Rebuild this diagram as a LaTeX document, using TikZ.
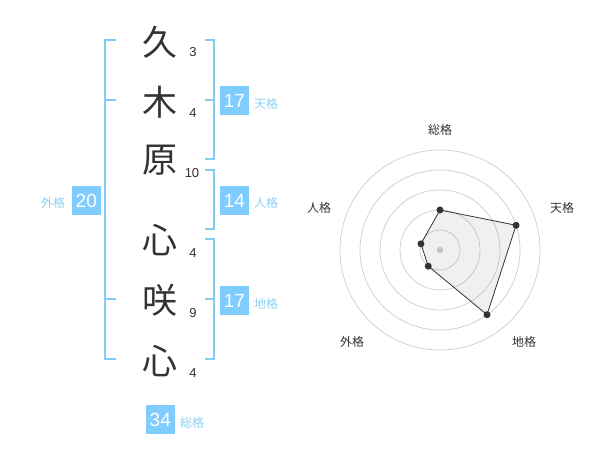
\documentclass[tikz,border=0pt]{standalone}
\usepackage{fontspec}
\setmainfont{Liberation Sans}
\newfontfamily\cjk{Noto Sans CJK JP}
\definecolor{bline}{HTML}{80CCF5}
\definecolor{bbox}{HTML}{80CCFF}
\definecolor{blab}{HTML}{8CD0F5}
\definecolor{dk}{HTML}{333333}
\definecolor{ring}{HTML}{CCCCCC}
\begin{document}
\begin{tikzpicture}[x=1pt,y=-1pt,
  kanji/.style={font=\cjk\fontsize{35}{35}\selectfont, text=dk, inner sep=0pt},
  stroke/.style={font=\fontsize{13}{13}\selectfont, text=dk, inner sep=0pt},
  numbox/.style={fill=bbox, text=white, minimum width=29pt, minimum height=29pt, inner sep=0pt, font=\fontsize{19}{19}\selectfont},
  lab/.style={font=\cjk\fontsize{12}{12}\selectfont, text=blab, inner sep=0pt},
  brk/.style={draw=bline, line width=2pt},
  rlab/.style={font=\cjk\fontsize{12}{12}\selectfont, text=dk, inner sep=0pt},
  ringc/.style={draw=ring, line width=0.7pt},
  dot/.style={circle, fill=dk, inner sep=0pt, minimum size=7pt}]
\useasboundingbox (0,0) rectangle (600,470);
% kanji
\node[kanji] (k1) at (160,42) {久};
\node[kanji] (k2) at (160,102) {木};
\node[kanji] (k3) at (160,160) {原};
\node[kanji] (k4) at (160,240) {心};
\node[kanji] (k5) at (160,300) {咲};
\node[kanji] (k6) at (160,361) {心};
% stroke counts
\node[stroke] (s1) at (193,52) {3};
\node[stroke] (s2) at (193,113) {4};
\node[stroke] (s3) at (192,173) {10};
\node[stroke] (s4) at (193,253) {4};
\node[stroke] (s5) at (193,313) {9};
\node[stroke] (s6) at (193,373) {4};
% brackets
\draw[brk] (116,40) -- (105,40) -- (105,359) -- (116,359);
\draw[brk] (105,100) -- (116,100);
\draw[brk] (105,299) -- (116,299);
\draw[brk] (205,40) -- (214,40) -- (214,159) -- (205,159);
\draw[brk] (205,100) -- (214,100);
\draw[brk] (205,170) -- (214,170) -- (214,229) -- (205,229);
\draw[brk] (205,239) -- (214,239) -- (214,359) -- (205,359);
\draw[brk] (205,299) -- (214,299);
% boxes
\node[numbox] (ten) at (234.5,100.5) {17};
\node[lab] (tenl) at (266,104) {天格};
\node[numbox] (jin) at (234.5,200.5) {14};
\node[lab] (jinl) at (266,203) {人格};
\node[numbox] (chi) at (234.5,300.5) {17};
\node[lab] (chil) at (266,304) {地格};
\node[numbox] (gai) at (86.3,200.5) {20};
\node[lab] (gail) at (53,203) {外格};
\node[numbox] (sou) at (160.3,419.5) {34};
\node[lab] (soul) at (192,423) {総格};
% radar
\begin{scope}[shift={(440,250)}]
\foreach \r in {20,40,60,80,100} \draw[ringc] (0,0) circle (\r);
\fill[ring] (0,0) circle (3.2);
\coordinate (p1) at (-90:40);
\coordinate (p2) at (-18:80);
\coordinate (p3) at (54:80);
\coordinate (p4) at (126:20);
\coordinate (p5) at (198:20);
\fill[black!50, opacity=0.12] (p1) -- (p2) -- (p3) -- (p4) -- (p5) -- cycle;
\draw[dk, line width=0.8pt] (p1) -- (p2) -- (p3) -- (p4) -- (p5) -- cycle;
\foreach \p in {p1,p2,p3,p4,p5} \node[dot] at (\p) {};
\end{scope}
\node[rlab] (r1) at (440,130) {総格};
\node[rlab] (r2) at (562,208) {天格};
\node[rlab] (r3) at (524,342) {地格};
\node[rlab] (r4) at (352,342) {外格};
\node[rlab] (r5) at (319,208) {人格};
\end{tikzpicture}
\end{document}
